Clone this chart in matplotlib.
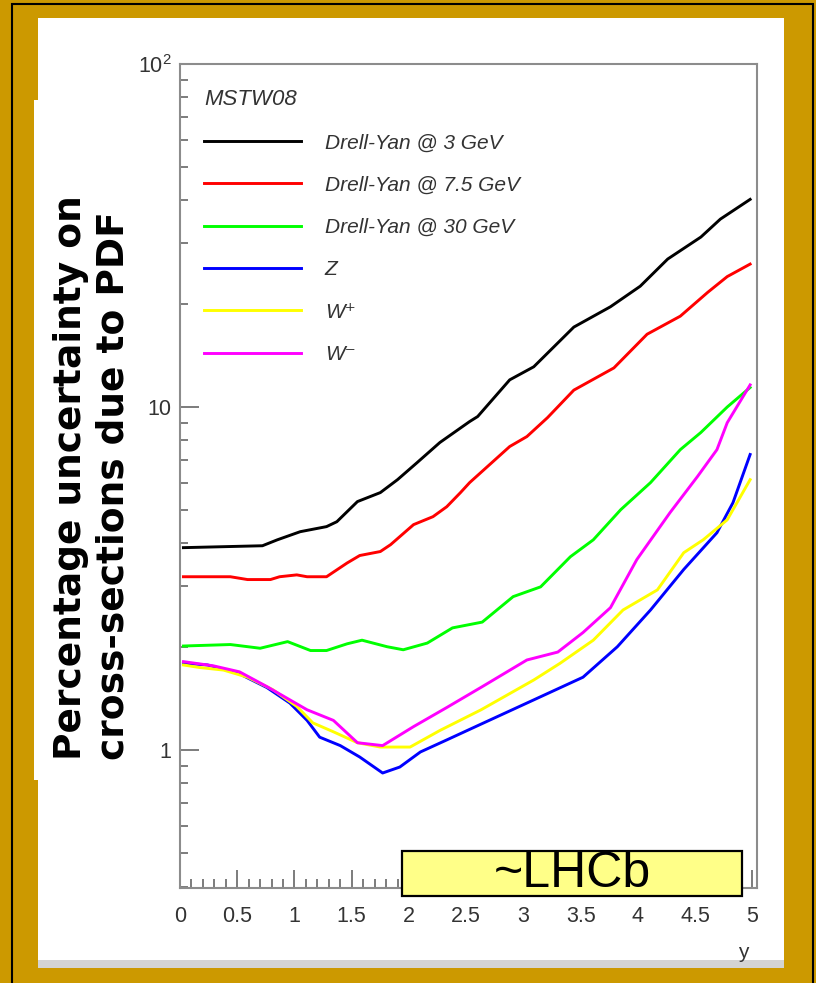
import matplotlib
matplotlib.use('Agg')
import matplotlib.pyplot as plt
from matplotlib.patches import Rectangle
from matplotlib.ticker import FixedLocator, MultipleLocator, NullFormatter

plt.rcParams['font.family'] = ['Liberation Sans', 'DejaVu Sans']
plt.rcParams['mathtext.fontset'] = 'custom'
plt.rcParams['mathtext.rm'] = 'Liberation Sans'
plt.rcParams['mathtext.it'] = 'Liberation Sans:italic'

# rapidity y vs. PDF uncertainty (%) on the cross-section
dy3_y = [0.03, 0.72, 0.85, 1.05, 1.28, 1.37, 1.55, 1.75, 1.90, 2.07, 2.27,
         2.53, 2.60, 2.88, 3.09, 3.44, 3.76, 4.02, 4.26, 4.55, 4.72, 4.98]
dy3_u = [3.89, 3.94, 4.10, 4.33, 4.48, 4.63, 5.30, 5.63, 6.14, 6.88, 7.88,
         9.07, 9.38, 12.0, 13.1, 17.1, 19.6, 22.5, 27.0, 31.3, 35.3, 40.3]

dy75_y = [0.03, 0.44, 0.59, 0.79, 0.87, 1.02, 1.11, 1.28, 1.46, 1.57, 1.75,
          1.84, 2.04, 2.21, 2.33, 2.45, 2.53, 2.88, 3.03, 3.21, 3.44, 3.79,
          4.08, 4.37, 4.61, 4.78, 4.98]
dy75_u = [3.20, 3.20, 3.14, 3.14, 3.20, 3.24, 3.20, 3.20, 3.51, 3.69, 3.79,
          3.97, 4.54, 4.79, 5.12, 5.63, 6.02, 7.67, 8.20, 9.31, 11.2, 13.0,
          16.3, 18.4, 21.6, 24.0, 26.1]

dy30_y = [0.03, 0.44, 0.70, 0.94, 1.14, 1.28, 1.46, 1.59, 1.81, 1.95, 2.16,
          2.38, 2.64, 2.91, 3.15, 3.41, 3.61, 3.85, 4.11, 4.37, 4.55, 4.78, 4.98]
dy30_u = [2.01, 2.03, 1.98, 2.07, 1.95, 1.95, 2.04, 2.09, 2.00, 1.96, 2.05,
          2.27, 2.36, 2.80, 2.99, 3.66, 4.10, 5.02, 6.02, 7.51, 8.43, 10.0, 11.4]

z_y = [0.03, 0.24, 0.50, 0.76, 0.96, 1.11, 1.22, 1.40, 1.57, 1.77, 1.92,
       2.10, 2.33, 2.63, 3.09, 3.52, 3.82, 4.11, 4.40, 4.69, 4.83, 4.98]
z_u = [1.79, 1.77, 1.68, 1.52, 1.37, 1.22, 1.09, 1.03, 0.954, 0.857, 0.892,
       0.987, 1.07, 1.19, 1.40, 1.63, 2.00, 2.56, 3.36, 4.30, 5.26, 7.27]

wp_y = [0.03, 0.17, 0.38, 0.59, 0.81, 1.02, 1.16, 1.34, 1.55, 1.75, 2.01,
        2.27, 2.63, 3.09, 3.32, 3.61, 3.87, 4.17, 4.40, 4.57, 4.78, 4.98]
wp_u = [1.77, 1.74, 1.71, 1.63, 1.50, 1.34, 1.20, 1.13, 1.05, 1.02, 1.02,
        1.14, 1.31, 1.60, 1.79, 2.09, 2.56, 2.93, 3.76, 4.10, 4.69, 6.14]

wm_y = [0.03, 0.29, 0.52, 0.76, 0.96, 1.11, 1.34, 1.55, 1.77, 2.04, 2.33,
        2.64, 3.03, 3.30, 3.52, 3.76, 3.99, 4.28, 4.52, 4.69, 4.78, 4.98]
wm_u = [1.81, 1.76, 1.69, 1.53, 1.40, 1.31, 1.22, 1.05, 1.03, 1.17, 1.33,
        1.53, 1.83, 1.93, 2.20, 2.60, 3.59, 4.92, 6.27, 7.51, 9.0, 11.6]

labels = ['Drell-Yan @ 3 GeV', 'Drell-Yan @ 7.5 GeV', 'Drell-Yan @ 30 GeV',
          'Z', 'W\u207a', 'W\u207b']
colors = ['black', '#ff0000', '#00ff00', '#0000ff', '#ffff00', '#ff00ff']

xticks = [0, 0.5, 1, 1.5, 2, 2.5, 3, 3.5, 4, 4.5, 5]
xticklabels = ['0', '0.5', '1', '1.5', '2', '2.5', '3', '3.5', '4', '4.5', '5']

W, H = 816, 983


def box(x0, y0, x1, y1):
    # pixel box (top-left origin) -> figure fraction
    return (x0 / W, 1 - y1 / H), (x1 - x0) / W, (y1 - y0) / H


fig = plt.figure(figsize=(W / 100, H / 100), dpi=100)
fig.patch.set_facecolor('#cc9900')

xy, w, h = box(12, 4, 813, 990)
fig.add_artist(Rectangle(xy, w, h, transform=fig.transFigure, fill=False,
                         edgecolor='black', lw=1.5, zorder=-3))
xy, w, h = box(38, 18, 784, 960)
fig.add_artist(Rectangle(xy, w, h, transform=fig.transFigure,
                         facecolor='white', edgecolor='none', zorder=-2))
xy, w, h = box(34, 100, 42, 780)
fig.add_artist(Rectangle(xy, w, h, transform=fig.transFigure,
                         facecolor='white', edgecolor='none', zorder=-2))
xy, w, h = box(38, 960, 784, 968)
fig.add_artist(Rectangle(xy, w, h, transform=fig.transFigure,
                         facecolor='#d4d4d4', edgecolor='none', zorder=-2))

xy, w, h = box(180, 64, 757, 888)
ax = fig.add_axes([xy[0], xy[1], w, h])
ax.set_facecolor('none')

series = [(dy3_y, dy3_u), (dy75_y, dy75_u), (dy30_y, dy30_u),
          (z_y, z_u), (wp_y, wp_u), (wm_y, wm_u)]
handles = []
for (xs, us), c, lab in zip(series, colors, labels):
    ln, = ax.plot(xs, us, color=c, lw=2.1, label=lab)
    handles.append(ln)

ax.set_yscale('log')
ax.set_xlim(0, 5.04)
ax.set_ylim(0.396, 100)

ax.yaxis.set_major_locator(FixedLocator([1, 10, 100]))
ax.set_yticklabels(['1', '10', '$10^{2}$'])
ax.yaxis.set_minor_formatter(NullFormatter())
ax.xaxis.set_major_locator(FixedLocator(xticks))
ax.set_xticklabels(xticklabels)
ax.xaxis.set_minor_locator(MultipleLocator(0.1))

ax.tick_params(which='both', direction='in', color='#666666', width=1.2,
               labelcolor='#333333', labelsize=15.5, top=False, right=False)
ax.tick_params(axis='y', which='major', length=14, pad=6)
ax.tick_params(axis='y', which='minor', length=6)
ax.tick_params(axis='x', which='major', length=13, pad=13)
ax.tick_params(axis='x', which='minor', length=6.5)
for s in ax.spines.values():
    s.set_color('#8c8c8c')
    s.set_linewidth(1.5)

ax.set_xlabel('y', fontsize=15, color='#333333', ha='right', va='center')
ax.xaxis.set_label_coords(0.985, -0.078)

leg = ax.legend(handles=handles, title='MSTW08', loc='upper left',
                bbox_to_anchor=(204 / W, 1 - 89 / H),
                bbox_transform=fig.transFigure, frameon=False,
                alignment='left', borderpad=0, borderaxespad=0,
                handlelength=4.65, handletextpad=1.15, labelspacing=1.12,
                prop={'style': 'italic', 'size': 15})
leg.get_title().set_fontsize(16)
leg.get_title().set_fontstyle('italic')
leg.get_title().set_color('#333333')
for t in leg.get_texts():
    t.set_color('#333333')

fig.text(92 / W, 1 - 478 / H,
         'Percentage uncertainty on\ncross-sections due to PDF',
         family='DejaVu Sans', weight='bold', fontsize=27, rotation=90,
         ha='center', va='center', multialignment='left', linespacing=1.22)

xy, w, h = box(402, 851, 742, 896)
fig.add_artist(Rectangle(xy, w, h, transform=fig.transFigure,
                         facecolor='#ffff88', edgecolor='black', lw=1.6,
                         zorder=5))
fig.text(572 / W, 1 - 874 / H, '~LHCb', fontsize=36, color='black',
         ha='center', va='center', zorder=6)

fig.savefig('out.png', dpi=100, facecolor=fig.get_facecolor())
